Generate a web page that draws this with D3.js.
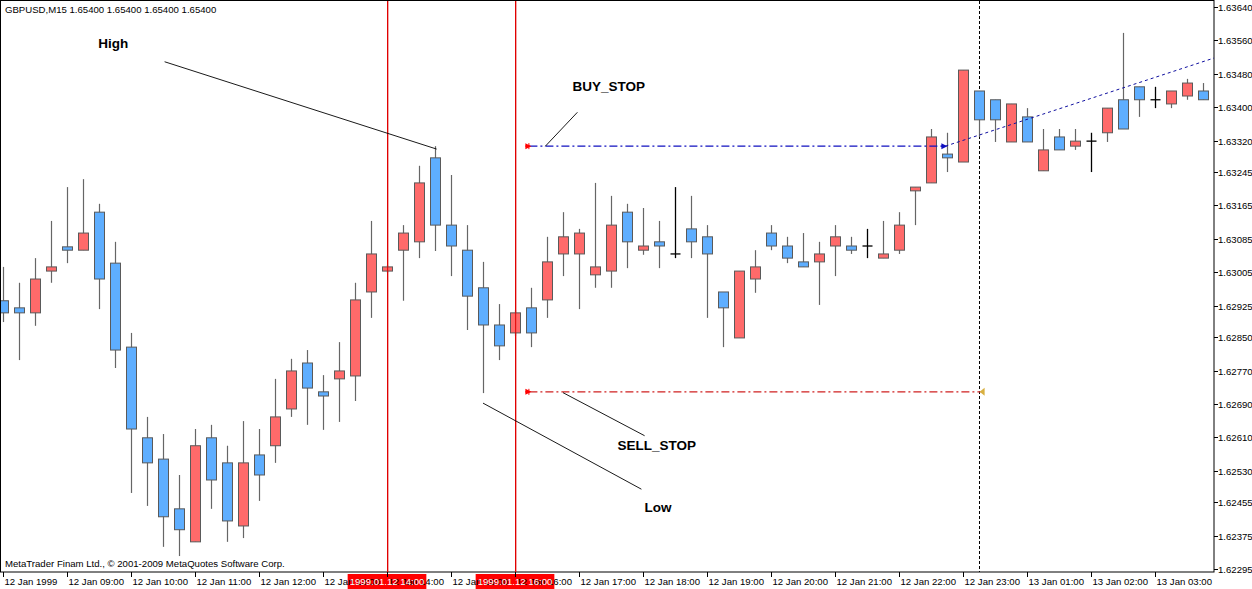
<!DOCTYPE html>
<html><head><meta charset="utf-8">
<script src="https://cdn.jsdelivr.net/npm/d3@7"></script>
<style>body{margin:0;background:#fff}svg{display:block}text{font-family:"Liberation Sans",Arial,sans-serif}</style>
</head><body><svg id="c" width="1252" height="589"></svg>
<script>
// OHLC, 15-minute candles starting 12 Jan 1999 08:00
const opens  = [1.62937,1.62920,1.62908,1.63008,1.63066,1.63058,1.63149,1.63027,1.62826,1.62609,1.62558,1.62439,1.62360,1.62609,1.62549,1.62398,1.62568,1.62590,1.62678,1.62788,
1.62719,1.62750,1.62757,1.62958,1.63008,1.63058,1.63078,1.63279,1.63118,1.63058,1.62968,1.62879,1.62860,1.62920,1.62939,1.63049,1.63049,1.62999,1.63008,1.63149,
1.63058,1.63078,1.63049,1.63109,1.63090,1.62958,1.62848,1.62989,1.63099,1.63068,1.63030,1.63030,1.63068,1.63068,1.63068,1.63039,1.63058,1.63200,1.63219,1.63288,
1.63269,1.63439,1.63418,1.63317,1.63377,1.63248,1.63329,1.63307,1.63319,1.63339,1.63418,1.63449,1.63418,1.63408,1.63427,1.63439];
const highs  = [1.63018,1.62980,1.63039,1.63128,1.63209,1.63228,1.63169,1.63078,1.62860,1.62659,1.62618,1.62520,1.62630,1.62640,1.62590,1.62649,1.62630,1.62750,1.62798,1.62819,
1.62759,1.62838,1.62980,1.63128,1.63023,1.63118,1.63260,1.63307,1.63238,1.63118,1.63030,1.62929,1.62915,1.62968,1.63090,1.63149,1.63109,1.63219,1.63188,1.63169,
1.63159,1.63128,1.63209,1.63188,1.63118,1.62958,1.63008,1.63058,1.63118,1.63090,1.63099,1.63078,1.63118,1.63090,1.63109,1.63128,1.63149,1.63209,1.63348,1.63339,
1.63489,1.63439,1.63418,1.63408,1.63398,1.63348,1.63348,1.63348,1.63339,1.63398,1.63578,1.63449,1.63449,1.63439,1.63468,1.63458];
const lows   = [1.62886,1.62795,1.62877,1.62980,1.63027,1.63058,1.62917,1.62776,1.62477,1.62446,1.62348,1.62326,1.62360,1.62439,1.62360,1.62369,1.62458,1.62549,1.62659,1.62640,
1.62628,1.62647,1.62697,1.62896,1.63004,1.62937,1.63039,1.63056,1.62996,1.62867,1.62716,1.62795,1.62853,1.62826,1.62896,1.62996,1.62917,1.62968,1.62968,1.63015,
1.63047,1.63015,1.63039,1.63039,1.62896,1.62826,1.62848,1.62956,1.63058,1.63027,1.63018,1.62927,1.62996,1.63049,1.63039,1.63039,1.63049,1.63118,1.63219,1.63245,
1.63269,1.63329,1.63317,1.63317,1.63317,1.63248,1.63298,1.63298,1.63245,1.63317,1.63348,1.63377,1.63398,1.63398,1.63418,1.63418];
const closes = [1.62908,1.62908,1.62989,1.63018,1.63058,1.63099,1.62989,1.62819,1.62630,1.62549,1.62420,1.62389,1.62590,1.62508,1.62410,1.62549,1.62520,1.62659,1.62769,1.62728,
1.62709,1.62769,1.62939,1.63049,1.63018,1.63099,1.63219,1.63118,1.63068,1.62948,1.62879,1.62829,1.62908,1.62860,1.63030,1.63090,1.63099,1.63018,1.63118,1.63078,
1.63068,1.63068,1.63049,1.63078,1.63049,1.62920,1.63008,1.63018,1.63068,1.63039,1.63018,1.63049,1.63090,1.63058,1.63068,1.63049,1.63118,1.63209,1.63329,1.63279,
1.63489,1.63370,1.63370,1.63408,1.63317,1.63298,1.63298,1.63319,1.63319,1.63398,1.63348,1.63418,1.63418,1.63439,1.63458,1.63418];
const priceTicks = [1.63640,1.63560,1.63480,1.63400,1.63320,1.63245,1.63165,1.63085,1.63005,1.62925,1.62850,1.62770,1.62690,1.62610,1.62530,1.62455,1.62375,1.62295];
const timeTickIdx = [0,4,8,12,16,20,24,28,32,36,40,44,48,52,56,60,64,68,72];
const timeTickLabels = ["12 Jan 1999","12 Jan 09:00","12 Jan 10:00","12 Jan 11:00","12 Jan 12:00","12 Jan 13:00","12 Jan 14:00","12 Jan 15:00","12 Jan 16:00","12 Jan 17:00","12 Jan 18:00","12 Jan 19:00","12 Jan 20:00","12 Jan 21:00","12 Jan 22:00","12 Jan 23:00","13 Jan 01:00","13 Jan 02:00","13 Jan 03:00"];
const vLines = [{idx:24,label:"1999.01.12 14:00"},{idx:32,label:"1999.01.12 16:00"}];
const dottedVIdx = 61;
const buyStop = {from:32.9, to:58.9, price:1.63307};
const sellStop = {from:32.9, to:61.1, price:1.62719};
const trend = [{i:58.9,p:1.63307},{i:75.7,p:1.63518}];
const notes = [
 {text:"High", at:[5.95,1.63542], line:[[10.1,1.63509],[27.1,1.63300]]},
 {text:"BUY_STOP", at:[35.6,1.63439], line:[[33.9,1.63307],[35.9,1.63388]]},
 {text:"SELL_STOP", at:[38.4,1.62580], line:[[35.0,1.62717],[40.1,1.62614]]},
 {text:"Low", at:[40.1,1.62432], line:[[30.0,1.62692],[39.9,1.62486]]}
];

const svg = d3.select("#c");
const x = d3.scaleLinear().domain([0,75]).range([3,1203]);
const y = d3.scaleLinear().domain([1.62295,1.63640]).range([569,7]);
const W=1214, B=572, FS=9.6;
svg.append("rect").attr("x",0.5).attr("y",0.5).attr("width",W-0.5).attr("height",B-0.5).attr("fill","#fff").attr("stroke","#000");
svg.append("clipPath").attr("id","cl").append("rect").attr("x",1).attr("y",1).attr("width",W-1).attr("height",B-1);
const g = svg.append("g").attr("clip-path","url(#cl)");

vLines.forEach(v=>g.append("rect").attr("x",Math.round(x(v.idx))).attr("y",1).attr("width",1.2).attr("height",B-1).attr("fill","#e00000"));
g.append("line").attr("x1",x(dottedVIdx)+0.5).attr("x2",x(dottedVIdx)+0.5).attr("y1",1).attr("y2",B).attr("stroke","#000").attr("stroke-dasharray","3,2");

const data = opens.map((o,i)=>({i,o,h:highs[i],l:lows[i],c:closes[i]}));
data.forEach(d=>{
  const cx = Math.round(x(d.i))+0.5;
  const doji = Math.abs(d.o-d.c)<1e-6;
  g.append("line").attr("x1",cx).attr("x2",cx).attr("y1",y(d.h)).attr("y2",y(d.l)).attr("stroke",doji?"#000":"#666").attr("stroke-width",doji?1.3:1.2);
  if(doji){
    g.append("line").attr("x1",cx-5).attr("x2",cx+5).attr("y1",y(d.o)).attr("y2",y(d.o)).attr("stroke","#000").attr("stroke-width",1.3);
  } else {
    const top=y(Math.max(d.o,d.c)), bot=y(Math.min(d.o,d.c));
    g.append("rect").attr("x",cx-5).attr("y",top).attr("width",10).attr("height",Math.max(bot-top,3))
     .attr("fill",d.c>d.o?"#ff6a6a":"#5eaeff").attr("stroke","#5a5a5a").attr("stroke-width",1);
  }
});
// redraw red lines above candles (they overlap)
vLines.forEach(v=>g.append("rect").attr("x",Math.round(x(v.idx))).attr("y",1).attr("width",1.2).attr("height",B-1).attr("fill","#e00000").attr("opacity",0.85));

g.append("line").attr("x1",x(buyStop.from)).attr("x2",x(buyStop.to)).attr("y1",y(buyStop.price)).attr("y2",y(buyStop.price)).attr("stroke","#1010c0").attr("stroke-width",1.2).attr("stroke-dasharray","8,3,2,3");
g.append("line").attr("x1",x(sellStop.from)).attr("x2",x(sellStop.to)).attr("y1",y(sellStop.price)).attr("y2",y(sellStop.price)).attr("stroke","#d02020").attr("stroke-width",1.2).attr("stroke-dasharray","8,3,2,3");
g.append("line").attr("x1",x(trend[0].i)).attr("y1",y(trend[0].p)).attr("x2",x(trend[1].i)).attr("y2",y(trend[1].p)).attr("stroke","#1010a0").attr("stroke-dasharray","3,3");
function arrow(ix,p,color,dir){const px=x(ix),py=y(p);
  g.append("path").attr("d",dir>0?`M${px-4},${py-3}L${px+2},${py}L${px-4},${py+3}Z`:`M${px+4},${py-4}L${px-1},${py}L${px+4},${py+4}Z`).attr("fill",color);
  if(dir>0) g.append("line").attr("x1",px-4).attr("x2",px).attr("y1",py).attr("y2",py).attr("stroke",color).attr("stroke-width",1.5);}
arrow(buyStop.from,buyStop.price,"#f00",1);
g.append("line").attr("x1",x(buyStop.from)-0.5).attr("x2",x(buyStop.from)-0.5).attr("y1",y(buyStop.price)-3).attr("y2",y(buyStop.price)+3).attr("stroke","#f00");
arrow(sellStop.from,sellStop.price,"#f00",1);
g.append("line").attr("x1",x(sellStop.from)-0.5).attr("x2",x(sellStop.from)-0.5).attr("y1",y(sellStop.price)-3).attr("y2",y(sellStop.price)+3).attr("stroke","#f00");
arrow(buyStop.to,buyStop.price,"#1010c0",1);
arrow(sellStop.to,sellStop.price,"#d8b040",-1);

notes.forEach(n=>{
  g.append("line").attr("x1",x(n.line[0][0])).attr("y1",y(n.line[0][1])).attr("x2",x(n.line[1][0])).attr("y2",y(n.line[1][1])).attr("stroke","#000").attr("stroke-width",0.9);
  g.append("text").attr("x",x(n.at[0])).attr("y",y(n.at[1])).text(n.text).attr("font-family","DejaVu Sans").attr("font-weight","bold").attr("font-size",13.5);
});

svg.append("text").attr("x",5).attr("y",13).attr("font-size",FS).text("GBPUSD,M15  1.65400 1.65400 1.65400 1.65400");
svg.append("text").attr("x",5).attr("y",567).attr("font-size",FS).text("MetaTrader Finam Ltd., © 2001-2009 MetaQuotes Software Corp.");

const pa = svg.append("g");
priceTicks.forEach(p=>{const py=Math.round(y(p))+0.5;
  pa.append("line").attr("x1",W).attr("x2",W+4).attr("y1",py).attr("y2",py).attr("stroke","#000");
  pa.append("text").attr("x",W+4).attr("y",py+3.5).attr("font-size",FS).text(p.toFixed(5));});
const ta = svg.append("g");
timeTickIdx.forEach((ix,k)=>{const px=Math.round(x(ix))+0.5;
  ta.append("line").attr("x1",px).attr("x2",px).attr("y1",B).attr("y2",B+5).attr("stroke","#000");
  ta.append("text").attr("x",px+1).attr("y",585).attr("font-size",FS).text(timeTickLabels[k]);});
vLines.forEach(v=>{const px=x(v.idx);
  const t=ta.append("text").attr("x",px).attr("y",585).attr("text-anchor","middle").attr("font-size",FS).attr("fill","#fff").text(v.label);
  const bb=t.node().getBBox();
  ta.insert("rect","text").attr("x",bb.x-2).attr("y",574).attr("width",bb.width+4).attr("height",15).attr("fill","#f00");
  t.raise();});
</script></body></html>
